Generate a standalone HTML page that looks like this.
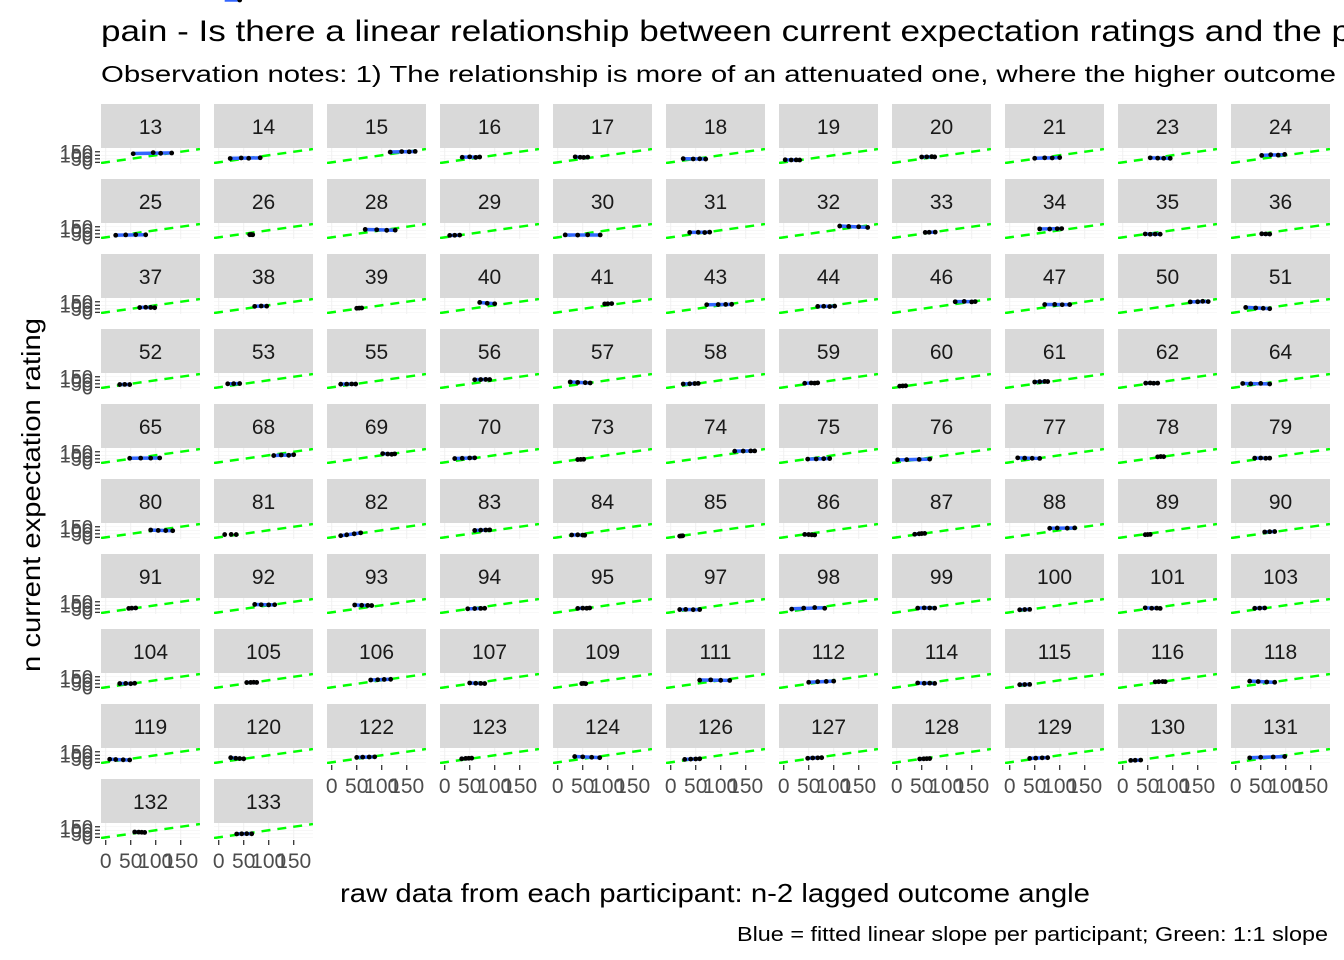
<!DOCTYPE html>
<html><head><meta charset="utf-8">
<style>
html,body{margin:0;padding:0;background:#fff;overflow:hidden;}
svg{display:block;font-family:"Liberation Sans",Arial,sans-serif;}
</style></head>
<body>
<svg id="chart" width="1344" height="960" viewBox="0 0 1344 960" xmlns="http://www.w3.org/2000/svg">
<text x="101" y="41" font-size="30" fill="#000" textLength="1250" lengthAdjust="spacingAndGlyphs">pain - Is there a linear relationship between current expectation ratings and the p</text>
<text x="101" y="82" font-size="23" fill="#000" textLength="1235" lengthAdjust="spacingAndGlyphs">Observation notes: 1) The relationship is more of an attenuated one, where the higher outcome</text>
<text transform="translate(40,495) rotate(-90)" text-anchor="middle" font-size="26" fill="#000" textLength="354" lengthAdjust="spacingAndGlyphs">n current expectation rating</text>
<text x="715" y="902" text-anchor="middle" font-size="26" fill="#000" textLength="750" lengthAdjust="spacingAndGlyphs">raw data from each participant: n-2 lagged outcome angle</text>
<text x="1328" y="941" text-anchor="end" font-size="20" fill="#000" textLength="591" lengthAdjust="spacingAndGlyphs">Blue = fitted linear slope per participant; Green: 1:1 slope</text>
<g id="panels"></g>
</svg>
<script>
const ids = [13,14,15,16,17,18,19,20,21,23,24,25,26,28,29,30,31,32,33,34,35,36,37,38,39,40,41,43,44,46,47,50,51,52,53,55,56,57,58,59,60,61,62,64,65,68,69,70,73,74,75,76,77,78,79,80,81,82,83,84,85,86,87,88,89,90,91,92,93,94,95,97,98,99,100,101,103,104,105,106,107,109,111,112,114,115,116,118,119,120,122,123,124,126,127,128,129,130,131,132,133];
const xVals = [
[55,95,110,132],[23,45,60,83],[117,140,155,167],[35,50,62,70],[35,45,52,60],[25,45,58,70],[3,15,25,32],[50,60,70,76],[50,70,85,100],[55,70,82,95],[52,70,85,98],
[20,40,60,80],[62,65,68],[67,90,110,127],[10,20,30],[15,40,60,85],[38,55,68,78],[112,130,150,168],[57,65,77],[60,80,95,104],[45,55,65,75],[52,60,68],
[68,80,90,98],[72,85,96],[50,55,60],[70,85,100],[94,100,108],[72,95,110,122],[68,80,92,102],[117,135,150,157],[70,90,105,120],[135,150,160,171],[20,40,55,68],
[28,38,48],[18,30,42],[18,30,40,48],[60,72,82,90],[25,40,55,65],[25,38,48,55],[42,55,62,68],[6,12,18],[50,60,70,76],[46,55,62,70],[14,30,50,68],
[48,70,90,108],[110,125,140,150],[102,112,120,126],[20,35,50,60],[40,46,52],[128,145,160,168],[48,65,80,92],[2,20,45,66],[16,30,45,60],[70,76,82],[38,50,60,68],
[90,105,120,134],[12,25,35,42],[18,30,45,58],[60,72,82,90],[28,40,50,54],[18,21,24],[42,50,56,62],[36,45,50,56],[80,95,115,130],[45,50,55],[58,68,78],
[46,52,60],[72,85,100,112],[46,60,72,80],[46,60,72,80],[40,50,58,64],[18,30,45,58],[16,40,62,82],[42,55,66,76],[20,30,40],[45,58,68,75],[38,48,58],
[28,40,50,58],[56,64,70,76],[78,92,105,118],[50,62,72,80],[48,52,56],[58,80,100,118],[50,68,85,100],[42,55,66,76],[20,30,40],[65,72,80,85],[28,45,62,78],
[8,20,35,48],[24,34,42,50],[50,62,75,86],[34,42,48,54],[34,50,68,84],[28,40,50,58],[48,58,68,76],[46,54,60,66],[40,52,65,76],[16,25,36],[28,50,75,98],
[58,66,72,78],[36,46,56,66]
];
const yVals = [
[122,138,128,132],[55,62,58,65],[145,152,150,155],[72,78,70,76],[78,72,70,74],[52,48,50,46],[36,34,35,33],[76,78,80,77],[58,64,62,68],[64,60,58,57],[98,108,102,112],
[30,35,38,36],[38,40,37],[112,108,100,102],[28,30,32],[35,32,36,34],[70,72,68,74],[160,155,150,140],[70,72,74],[120,118,122,124],[48,44,46,45],[50,48,46],
[68,72,70,66],[85,90,88],[58,60,62],[140,128,122],[120,122,124],[108,110,112,114],[84,86,82,88],[150,155,148,152],[110,112,108,110],[148,150,156,152],[70,62,58,52],
[40,42,40],[50,52,54],[45,46,48,47],[108,110,112,110],[76,70,66,62],[48,50,54,56],[58,62,60,64],[18,20,22],[76,80,84,82],[60,62,58,60],[55,50,56,48],
[58,60,60,62],[96,104,100,108],[124,118,114,120],[54,58,62,64],[40,42,44],[158,160,162,162],[46,48,52,54],[36,38,42,46],[64,60,58,56],[78,82,80],[60,62,58,60],
[104,98,96,94],[40,42,40],[24,36,50,64],[98,102,104,106],[34,36,32,30],[18,20,22],[42,40,36,34],[44,50,54,56],[128,132,130,134],[38,40,42],[76,80,82],
[56,60,62],[112,108,106,108],[104,100,98,96],[50,54,56,58],[56,60,58,62],[40,42,38,40],[46,60,68,58],[60,64,62,60],[36,40,42],[64,58,60,56],[58,60,62],
[54,56,52,58],[68,70,72,70],[104,108,112,114],[62,58,56,54],[54,56,52],[102,106,100,98],[72,80,84,88],[62,58,60,56],[38,40,42],[78,80,82,80],[88,82,76,72],
[44,40,36,34],[66,58,54,50],[70,74,76,78],[50,56,58,60],[82,78,72,66],[42,46,48,50],[58,62,64,66],[48,50,52,54],[56,60,64,66],[28,30,32],[64,72,76,82],
[76,74,72,70],[48,50,52,50]
];
const xTicks = [0,50,100,150];
const yTicks = [0,50,100,150];

const NS = "http://www.w3.org/2000/svg";
const g = document.getElementById('panels');
const COLS = 11, PW = 99, PITCHX = 113, PITCHY = 75, LEFT0 = 101, TOP0 = 104, STRIPH = 44, PH = 16;
const XMIN = -9.4, XMAX = 188.6, YMIN = -23, YMAX = 203;
function mk(tag, attrs, parent) {
  const e = document.createElementNS(NS, tag);
  for (const k in attrs) e.setAttribute(k, attrs[k]);
  parent.appendChild(e);
  return e;
}
const n = ids.length;
ids.forEach((id, i) => {
  const r = Math.floor(i / COLS), c = i % COLS;
  const left = LEFT0 + c * PITCHX, stripTop = TOP0 + r * PITCHY, top = stripTop + STRIPH, bottom = top + PH;
  const sx = v => left + (v - XMIN) / (XMAX - XMIN) * PW;
  const sy = v => bottom - (v - YMIN) / (YMAX - YMIN) * PH;
  const pg = mk('g', {}, g);
  
  
  const strip = mk('rect', {x: left, y: stripTop, width: PW, height: STRIPH, fill: '#d9d9d9'}, pg);
  
  
  const st = mk('text', {x: left + PW / 2, y: stripTop + 30, 'text-anchor': 'middle', 'font-size': 21, fill: '#1a1a1a'}, pg);
  st.textContent = id;
  
  
  xTicks.forEach(t => mk('line', {x1: sx(t), x2: sx(t), y1: top, y2: bottom, stroke: '#f0f0f0', 'stroke-width': 1}, pg));
  yTicks.forEach(t => mk('line', {x1: left, x2: left + PW, y1: sy(t), y2: sy(t), stroke: '#f0f0f0', 'stroke-width': 0.6}, pg));
  if (c === 0) {
    yTicks.forEach(t => {
      mk('line', {x1: left - 6, x2: left - 1, y1: sy(t), y2: sy(t), stroke: '#333', 'stroke-width': 1.3}, pg);
      const yl = mk('text', {x: left - 8, y: sy(t) + 7, 'text-anchor': 'end', 'font-size': 20, fill: '#4d4d4d'}, pg);
      yl.textContent = t;
      
      
    });
  }
  if (i + COLS >= n) {
    xTicks.forEach(t => {
      mk('line', {x1: sx(t), x2: sx(t), y1: bottom + 1, y2: bottom + 6, stroke: '#333', 'stroke-width': 1.3}, pg);
      const xl = mk('text', {x: sx(t), y: bottom + 29, 'text-anchor': 'middle', 'font-size': 21, fill: '#4d4d4d'}, pg);
      xl.textContent = t;
      
      
    });
  }
  const clip = 'clip' + id;
  const cp = mk('clipPath', {id: clip}, pg);
  mk('rect', {x: left, y: top, width: PW, height: PH}, cp);
  const ref = mk('line', {x1: sx(XMIN), y1: sy(XMIN), x2: sx(XMAX), y2: sy(XMAX), stroke: '#00ff00', 'stroke-width': 2.5, 'stroke-dasharray': '9,7', 'clip-path': 'url(#' + clip + ')'}, pg);
  
  
  const xs = xVals[i], ys = yVals[i];
  const mx = xs.reduce((a, b) => a + b, 0) / xs.length, my = ys.reduce((a, b) => a + b, 0) / ys.length;
  let sxy = 0, sxx = 0;
  xs.forEach((x, k) => { sxy += (x - mx) * (ys[k] - my); sxx += (x - mx) * (x - mx); });
  const b = sxx ? sxy / sxx : 0;
  const x0 = Math.min(...xs), x1 = Math.max(...xs);
  const fit = mk('line', {x1: sx(x0), y1: sy(my + b * (x0 - mx)), x2: sx(x1), y2: sy(my + b * (x1 - mx)), stroke: '#3366ff', 'stroke-width': 3.5}, pg);
  
  
  xs.forEach((x, k) => {
    const p = mk('circle', {cx: sx(x), cy: sy(ys[k]), r: 2.4, fill: '#000'}, pg);
    
    
  });
});
</script>
</body></html>
